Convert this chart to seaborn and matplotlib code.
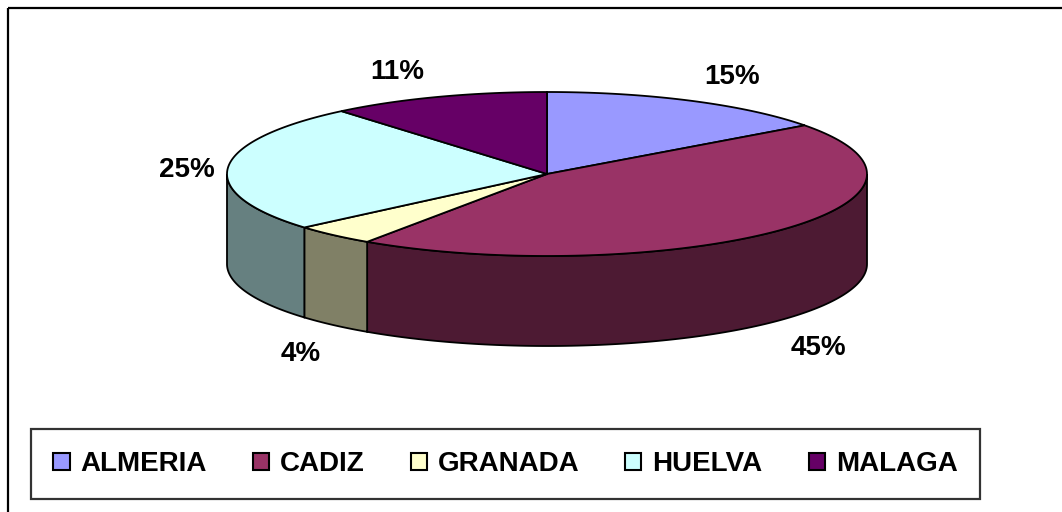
import numpy as np
import matplotlib
matplotlib.use("Agg")
import matplotlib.pyplot as plt
from matplotlib.patches import Polygon, Rectangle
import seaborn as sns

# Data (shares in %)
provinces = ["ALMERIA", "CADIZ", "GRANADA", "HUELVA", "MALAGA"]
shares = [14.9, 44.6, 4.2, 25.2, 11.1]
top_colors = ["#9999FF", "#993366", "#FFFFCC", "#CCFFFF", "#660066"]


def shade(hex_color, f=0.5):
    rgb = np.array(matplotlib.colors.to_rgb(hex_color))
    return tuple(rgb * f)


def ellipse_pts(t1, t2, cx, cy, a, b, dy=0.0, n=120):
    t = np.radians(np.linspace(t1, t2, n))
    return np.column_stack([cx + a * np.cos(t), cy - b * np.sin(t) + dy])


def main():
    sns.set_style("white")
    plt.rcParams["font.family"] = ["Liberation Sans", "DejaVu Sans"]

    fig = plt.figure(figsize=(10.62, 5.12), dpi=100)
    ax = fig.add_axes([0, 0, 1, 1])
    ax.set_xlim(0, 1062)
    ax.set_ylim(512, 0)
    ax.axis("off")

    # chart area frame (right and bottom run off the picture)
    ax.add_patch(Rectangle((8, 8), 1100, 600, fill=False, ec="black", lw=1.6))

    cx, cy, a, b, depth = 547, 174, 320, 82, 90
    vals = np.array(shares, dtype=float)
    ends = 90 - np.cumsum(vals) / vals.sum() * 360
    starts = np.concatenate([[90], ends[:-1]])

    # side walls (front half only: angles between -180 and 0)
    for s, e, col in zip(starts, ends, top_colors):
        lo, hi = max(e, -180), min(s, 0)
        if hi > lo:
            top = ellipse_pts(hi, lo, cx, cy, a, b)
            bot = ellipse_pts(lo, hi, cx, cy, a, b, dy=depth)
            ax.add_patch(Polygon(np.vstack([top, bot]), closed=True,
                                 fc=shade(col), ec="black", lw=1.3, zorder=2))

    # top faces
    for s, e, col in zip(starts, ends, top_colors):
        arc = ellipse_pts(s, e, cx, cy, a, b)
        pts = np.vstack([[cx, cy], arc])
        ax.add_patch(Polygon(pts, closed=True, fc=col, ec="black",
                             lw=1.3, zorder=3))

    # percentage labels, just outside the rim
    for s, e, v in zip(starts, ends, vals):
        m = np.radians((s + e) / 2)
        ex = cx + a * np.cos(m)
        ey = cy - b * np.sin(m)
        if np.sin(m) < 0:
            ey += depth
        if np.cos(m) >= 0:
            x, ha = ex + 13, "left"
        else:
            x, ha = ex - 13, "right"
        y = ey - 32 * np.sin(m) + 5
        ax.text(x, y, f"{round(v / vals.sum() * 100):d}%", ha=ha,
                va="center", fontsize=20, fontweight="bold", color="black",
                zorder=5)

    handles = [Rectangle((0, 0), 1, 1, fc=c, ec="black", lw=1.5)
               for c in top_colors]
    leg = fig.legend(handles, provinces, ncol=5, loc="center",
                     bbox_to_anchor=((31 + 980) / 2 / 1062, 1 - 464 / 512),
                     fancybox=False, frameon=True,
                     handlelength=0.58, handleheight=0.58, handletextpad=0.4,
                     columnspacing=1.65, borderpad=0.8, borderaxespad=0,
                     labelcolor="black",
                     prop={"size": 20, "weight": "bold"})
    leg.get_frame().set_edgecolor("black")
    leg.get_frame().set_linewidth(1.6)

    fig.savefig("out.png", dpi=100, facecolor="white")


if __name__ == "__main__":
    main()
